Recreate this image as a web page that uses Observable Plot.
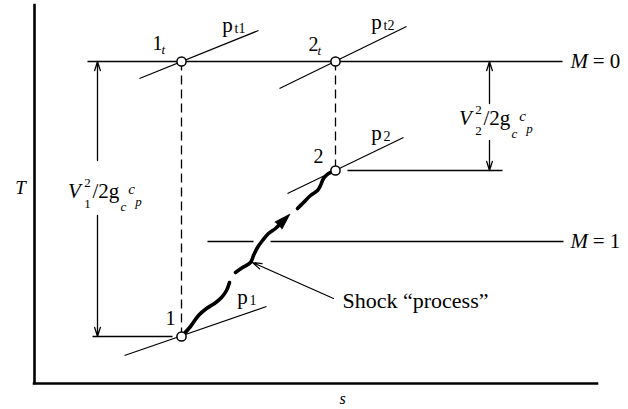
<!DOCTYPE html>
<html>
<head>
<meta charset="utf-8">
<script src="https://cdn.jsdelivr.net/npm/d3@7"></script>
<script src="https://cdn.jsdelivr.net/npm/@observablehq/plot@0.6"></script>
<style>
  html, body { margin: 0; padding: 0; background: #fff; }
</style>
</head>
<body>
<div id="chart"></div>
<script>
// Normal shock on a T–s diagram (entropy s across, temperature T up, arbitrary units)

// Static and stagnation states
const states = [
  {id: "1t", s: 147, T: 322},
  {id: "2t", s: 301, T: 322},
  {id: "2",  s: 301, T: 213},
  {id: "1",  s: 147, T: 47}
];

// Constant-Mach temperature levels
const machLevels = [
  {label: "M = 0", T: 322, s1: 53,  s2: 528},
  {label: "M = 1", T: 142, s1: 173, s2: 219},
  {label: "",      T: 142, s1: 236, s2: 529}
];

// Short static-temperature guides at states 1 and 2
const staticLevels = [
  {T: 213, s1: 313, s2: 468},
  {T: 47,  s1: 58,  s2: 138}
];

// Isobar segments through each state
const isobars = [
  {name: "pt1", s1: 105, T1: 305, s2: 224, T2: 353},
  {name: "pt2", s1: 245, T1: 295, s2: 372, T2: 357},
  {name: "p2",  s1: 253, T1: 190, s2: 369, T2: 246},
  {name: "p1",  s1: 90,  T1: 28,  s2: 232, T2: 77}
];

// Wavy, broken path of the shock "process" from 1 to 2
const shockPath = [
  {seg: 1, s: 148, T: 48}, {seg: 1, s: 156, T: 57}, {seg: 1, s: 164, T: 68},
  {seg: 1, s: 172, T: 75}, {seg: 1, s: 180, T: 80}, {seg: 1, s: 187, T: 86},
  {seg: 1, s: 192, T: 93}, {seg: 1, s: 195, T: 101},
  {seg: 2, s: 201, T: 111}, {seg: 2, s: 208, T: 116}, {seg: 2, s: 216, T: 121},
  {seg: 2, s: 219, T: 128}, {seg: 2, s: 223, T: 136}, {seg: 2, s: 228, T: 143},
  {seg: 2, s: 234, T: 150}, {seg: 2, s: 241, T: 155}, {seg: 2, s: 246, T: 160},
  {seg: 3, s: 263, T: 175}, {seg: 3, s: 269, T: 181}, {seg: 3, s: 276, T: 188},
  {seg: 3, s: 283, T: 193}, {seg: 3, s: 286, T: 198}, {seg: 3, s: 289, T: 205},
  {seg: 3, s: 294, T: 210}, {seg: 3, s: 299, T: 212}
];
// Direction marker on the shock path
const shockHead = [{s: 244, T: 158, angle: 45}];

// Kinetic-energy dimension arrows (from the stagnation level down to the static state)
const dims = [
  {s: 63,  Tlo: 47,  Thi: 322, gapLo: 168, gapHi: 223, index: "1", ls: 40,  lT: 192},
  {s: 455, Tlo: 213, Thi: 322, gapLo: 243, gapHi: 280, index: "2", ls: 431, lT: 265}
];

// Callout for the shock process
const callout = [{s1: 299, T1: 85, s2: 218, T2: 121, text: "Shock \u201cprocess\u201d", ts: 308, tT: 83}];

// State and isobar labels (base text with subscript)
const stateLabels = [
  {text: "1", sub: "t", s: 123, T: 340},
  {text: "2", sub: "t", s: 279, T: 339},
  {text: "2", sub: "",  s: 284, T: 227},
  {text: "1", sub: "",  s: 136, T: 65}
];
const isobarLabels = [
  {text: "p", sub: "t1", s: 193, T: 358},
  {text: "p", sub: "t2", s: 342, T: 361},
  {text: "p", sub: "2",  s: 342, T: 250},
  {text: "p", sub: "1",  s: 208, T: 86}
];

const axisLabels = [
  {text: "T", s: -14, T: 196, size: 19},
  {text: "s", s: 308, T: -15, size: 16}
];

const serif = "'Liberation Serif', 'Times New Roman', Times, serif";
const big = 20, small = 13;

// One formula V_i^2/2g_c c_p per dimension arrow, assembled from pieces
function formulaMarks(data) {
  const base = {x: "ls", y: "lT", fontFamily: serif, fill: "black"};
  return [
    Plot.text(data, {...base, text: () => "V", fontSize: 21, fontStyle: "italic"}),
    Plot.text(data, {...base, text: () => "2", fontSize: small, dx: 13, dy: -9}),
    Plot.text(data, {...base, text: "index", fontSize: small, dx: 13, dy: 12}),
    Plot.text(data, {...base, text: () => "/2g", fontSize: 21, textAnchor: "start", dx: 18, dy: 0}),
    Plot.text(data, {...base, text: () => "c", fontSize: small, fontStyle: "italic", dx: 49, dy: 15}),
    Plot.text(data, {...base, text: () => "c", fontSize: 15, fontStyle: "italic", dx: 57, dy: -2}),
    Plot.text(data, {...base, text: () => "p", fontSize: small, fontStyle: "italic", dx: 64, dy: 10})
  ];
}

const chart = Plot.plot({
  width: 628,
  height: 409,
  marginLeft: 34,
  marginRight: 31,
  marginTop: 5,
  marginBottom: 26,
  x: {domain: [0, 563], axis: null},
  y: {domain: [0, 378], axis: null},
  style: {background: "#fff", overflow: "visible"},
  marks: [
    // axes
    Plot.ruleX([0], {y1: 0, y2: 378, strokeWidth: 2.6, strokeLinecap: "square"}),
    Plot.ruleY([0], {x1: 0, x2: 563, strokeWidth: 2.6, strokeLinecap: "square"}),

    // constant temperature lines
    Plot.link(machLevels, {x1: "s1", x2: "s2", y1: "T", y2: "T", stroke: "black", strokeWidth: 1.3}),
    Plot.link(staticLevels, {x1: "s1", x2: "s2", y1: "T", y2: "T", stroke: "black", strokeWidth: 1.3}),

    // isobars
    Plot.link(isobars, {x1: "s1", y1: "T1", x2: "s2", y2: "T2", stroke: "black", strokeWidth: 1.2}),

    // dashed verticals linking static and stagnation states
    Plot.link([[states[0], states[3]], [states[1], states[2]]], {
      x1: d => d[0].s, y1: d => d[0].T, x2: d => d[1].s, y2: d => d[1].T,
      stroke: "black", strokeWidth: 1.3, strokeDasharray: "9,5"
    }),

    // shock process
    Plot.line(shockPath, {x: "s", y: "T", z: "seg", curve: "catmull-rom", stroke: "black", strokeWidth: 3.6, strokeLinecap: "round"}),
    Plot.vector(shockHead, {x: "s", y: "T", rotate: "angle", length: 16, r: 5, shape: "spike", anchor: "start", fill: "black", stroke: "black", strokeWidth: 0.8}),

    // dimension arrows
    Plot.arrow(dims, {x1: "s", x2: "s", y1: "gapHi", y2: "Thi", stroke: "black", strokeWidth: 1.3, headLength: 11, headAngle: 35}),
    Plot.arrow(dims, {x1: "s", x2: "s", y1: "gapLo", y2: "Tlo", stroke: "black", strokeWidth: 1.3, headLength: 11, headAngle: 35}),
    ...formulaMarks(dims),

    // callout
    Plot.arrow(callout, {x1: "s1", y1: "T1", x2: "s2", y2: "T2", stroke: "black", strokeWidth: 1.2, headLength: 12, headAngle: 35}),
    Plot.text(callout, {x: "ts", y: "tT", text: "text", textAnchor: "start", fontFamily: serif, fontSize: 22}),

    // Mach labels
    Plot.text(machLevels.filter(d => d.label), {
      x: () => 536, y: "T", text: d => d.label.slice(1), textAnchor: "start", dx: 17, fontFamily: serif, fontSize: 21
    }),
    Plot.text(machLevels.filter(d => d.label), {
      x: () => 536, y: "T", text: () => "M", textAnchor: "start", fontFamily: serif, fontSize: 21, fontStyle: "italic"
    }),

    // state points
    Plot.dot(states, {x: "s", y: "T", r: 4.6, fill: "white", stroke: "black", strokeWidth: 1.5}),

    // state labels
    Plot.text(stateLabels, {x: "s", y: "T", text: "text", fontFamily: serif, fontSize: big}),
    Plot.text(stateLabels, {x: "s", y: "T", text: "sub", textAnchor: "start", dx: 4, dy: 6, fontFamily: serif, fontSize: small, fontStyle: "italic"}),

    // isobar labels
    Plot.text(isobarLabels, {x: "s", y: "T", text: "text", fontFamily: serif, fontSize: 21}),
    Plot.text(isobarLabels, {x: "s", y: "T", text: "sub", textAnchor: "start", dx: 7, dy: 3, fontFamily: serif, fontSize: 14}),

    // axis titles
    Plot.text(axisLabels, {x: "s", y: "T", text: "text", fontFamily: serif, fontSize: "size", fontStyle: "italic"})
  ]
});

document.getElementById("chart").appendChild(chart);
</script>
</body>
</html>
